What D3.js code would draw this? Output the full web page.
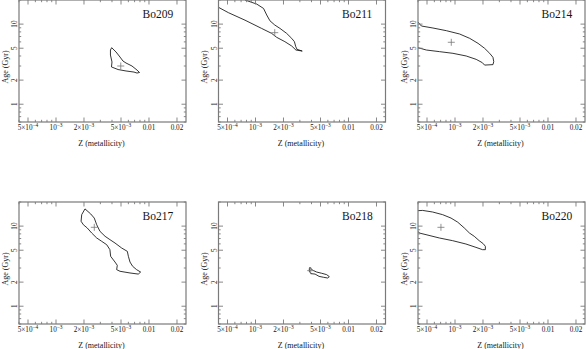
<!DOCTYPE html>
<html>
<head>
<meta charset="utf-8">
<script src="https://cdn.jsdelivr.net/npm/d3@7"></script>
<style>
  html, body { margin: 0; padding: 0; background: #fff; }
  svg { display: block; }
</style>
</head>
<body>
<div id="chart"></div>
<script>
// cluster names, one per panel (row by row)
const clusterNames = ['Bo209', 'Bo211', 'Bo214', 'Bo217', 'Bo218', 'Bo220'];

// best fit (Z, age in Gyr), drawn as a cross
const bestFits = [
  [0.00497, 3.00],
  [0.00161, 7.82],
  [0.000912, 5.93],
  [0.00258, 9.66],
  [0.00392, 2.78],
  [0.000706, 9.66]
];

// confidence contours, [Z, age] pairs
const bo209Contour = [
  [0.00397, 5.08], [0.00442, 4.49], [0.00488, 3.88], [0.00525, 3.46], [0.00566, 3.27],
  [0.00656, 3.00], [0.00743, 2.67], [0.00791, 2.49], [0.00743, 2.45], [0.00690, 2.52],
  [0.00566, 2.60], [0.00465, 2.71], [0.00395, 2.92], [0.00400, 3.37], [0.00385, 4.11],
  [0.00385, 4.75]
];
const bo211Contour = [
  [0.00072, 22], [0.000771, 20.0], [0.00103, 17.8], [0.00122, 15.7], [0.00132, 13.0],
  [0.00143, 11.0], [0.00161, 9.75], [0.00183, 8.85], [0.00216, 7.67], [0.00245, 6.64],
  [0.00262, 6.04], [0.00271, 5.22], [0.00280, 4.84], [0.00318, 4.61], [0.00272, 4.75],
  [0.00245, 5.33], [0.00207, 6.04], [0.00169, 6.84], [0.00149, 7.67], [0.00116, 8.85],
  [0.000771, 11.2], [0.000511, 13.9], [0.000400, 16.2], [0.00036, 17.2], [0.00036, 24],
  [0.00072, 24]
];
const bo214Contour = [
  [0.00036, 11.2], [0.000400, 10.6], [0.000435, 9.47], [0.000579, 8.94], [0.000807, 8.28],
  [0.00112, 7.53], [0.00144, 6.64], [0.00177, 5.75], [0.00208, 4.99], [0.00236, 4.32],
  [0.00256, 3.85], [0.00261, 3.40], [0.00256, 3.12], [0.00208, 3.08], [0.00197, 3.30],
  [0.00169, 3.63], [0.00132, 4.00], [0.000950, 4.32], [0.000684, 4.53], [0.000492, 4.75],
  [0.000400, 5.08], [0.00036, 5.2]
];
const bo217Contour = [
  [0.00205, 16.4], [0.00236, 14.2], [0.00258, 12.6], [0.00274, 10.4], [0.00297, 8.61],
  [0.00337, 7.46], [0.00380, 6.78], [0.00431, 6.15], [0.00508, 5.33], [0.00585, 4.84],
  [0.00600, 4.20], [0.00625, 3.56], [0.00667, 3.15], [0.00736, 2.86], [0.00813, 2.67],
  [0.00767, 2.52], [0.00625, 2.60], [0.00488, 2.73], [0.00449, 2.86], [0.00456, 3.24],
  [0.00431, 3.56], [0.00387, 4.20], [0.00380, 5.08], [0.00351, 5.86], [0.00310, 6.46],
  [0.00274, 7.11], [0.00242, 8.20], [0.00217, 9.47], [0.00197, 10.4], [0.00186, 11.5],
  [0.00189, 13.9]
];
const bo218Contour = [
  [0.00385, 3.06], [0.00408, 2.83], [0.00455, 2.67], [0.00514, 2.58], [0.00582, 2.48],
  [0.00622, 2.34], [0.00597, 2.25], [0.00536, 2.30], [0.00482, 2.36], [0.00437, 2.52],
  [0.00395, 2.55], [0.00379, 2.73], [0.00379, 2.94]
];
const bo220Contour = [
  [0.00036, 15.5], [0.000400, 15.6], [0.000449, 15.7], [0.000575, 15.0], [0.000736, 13.9],
  [0.000906, 12.6], [0.00107, 11.2], [0.00126, 9.47], [0.00143, 8.20], [0.00161, 7.46],
  [0.00182, 6.58], [0.00201, 6.04], [0.00212, 5.60], [0.00212, 5.08], [0.00198, 5.08],
  [0.00168, 5.43], [0.00131, 5.98], [0.000944, 6.58], [0.000678, 7.11], [0.000488, 7.82],
  [0.000413, 8.20], [0.000400, 8.61], [0.00036, 8.8]
];
const contours = [bo209Contour, bo211Contour, bo214Contour, bo217Contour, bo218Contour, bo220Contour];

// axis ticks
const zTicks = [0.0005, 0.001, 0.002, 0.005, 0.01, 0.02];
const zTickLabels = ['5×10^−4', '10^−3', '2×10^−3', '5×10^−3', '0.01', '0.02'];
const ageTicks = [1, 2, 5, 10];
const ageTickLabels = ['1', '2', '5', '10'];

const Z_DOMAIN = [0.0004, 0.025];
const AGE_DOMAIN = [0.6, 20];

// layout
const CANVAS = { w: 586, h: 349 };
const PANEL = { w: 167, h: 122, lefts: [19, 218.5, 418], tops: [0, 202] };
const FRAME_COLOR = '#7a7a7a';
const TEXT_COLOR = '#151515';
const FONT = '"Liberation Serif", "DejaVu Serif", serif';

const svg = d3.select('#chart').append('svg')
  .attr('width', CANVAS.w)
  .attr('height', CANVAS.h)
  .attr('font-family', FONT);

const defs = svg.append('defs');

const x = d3.scaleLog().domain(Z_DOMAIN).range([0, PANEL.w]);
const y = d3.scaleLog().domain(AGE_DOMAIN).range([PANEL.h, 0]);

// minor ticks for log axes
function logTicks(domain) {
  const out = [];
  [1e-5, 1e-4, 1e-3, 1e-2, 1e-1, 1, 10].forEach(dec => {
    for (let m = 1; m <= 9; m++) {
      const v = +(m * dec).toPrecision(6);
      if (v >= domain[0] && v <= domain[1]) out.push({ v, major: m === 1 });
    }
  });
  return out;
}
const zMinor = logTicks(Z_DOMAIN).map(t => ({ v: t.v, major: t.major || zTicks.includes(t.v) }));
const ageMinor = logTicks(AGE_DOMAIN).map(t => ({ v: t.v, major: t.major || ageTicks.includes(t.v) }));

const line = d3.line().x(d => x(d[0])).y(d => y(d[1]));

clusterNames.forEach((name, i) => {
  const col = i % 3, row = Math.floor(i / 3);
  const g = svg.append('g')
    .attr('transform', `translate(${PANEL.lefts[col]},${PANEL.tops[row]})`);

  defs.append('clipPath').attr('id', `clip${i}`)
    .append('rect').attr('width', PANEL.w).attr('height', PANEL.h);

  // contour
  g.append('path')
    .datum(contours[i])
    .attr('clip-path', `url(#clip${i})`)
    .attr('d', d => line(d) + 'Z')
    .attr('fill', 'none')
    .attr('stroke', '#111')
    .attr('stroke-width', 0.85);

  // best fit cross
  const cx = x(bestFits[i][0]), cy = y(bestFits[i][1]);
  g.append('path')
    .attr('d', `M${cx - 3.5},${cy}H${cx + 3.5}M${cx},${cy - 3.5}V${cy + 3.5}`)
    .attr('stroke', '#777')
    .attr('stroke-width', 0.8);

  // frame
  g.append('rect')
    .attr('width', PANEL.w).attr('height', PANEL.h)
    .attr('fill', 'none')
    .attr('stroke', FRAME_COLOR)
    .attr('stroke-width', 1.2);

  // ticks on all four sides, pointing inward
  const tg = g.append('g').attr('stroke', FRAME_COLOR).attr('stroke-width', 0.9);
  zMinor.forEach(t => {
    const len = t.major ? 4.5 : 2.2, px = x(t.v);
    tg.append('line').attr('x1', px).attr('x2', px).attr('y1', PANEL.h).attr('y2', PANEL.h - len);
    tg.append('line').attr('x1', px).attr('x2', px).attr('y1', 0).attr('y2', len);
  });
  ageMinor.forEach(t => {
    const len = t.major ? 4.5 : 2.2, py = y(t.v);
    tg.append('line').attr('x1', 0).attr('x2', len).attr('y1', py).attr('y2', py);
    tg.append('line').attr('x1', PANEL.w).attr('x2', PANEL.w - len).attr('y1', py).attr('y2', py);
  });

  // x tick labels
  zTicks.forEach((v, k) => {
    const [base, exp] = zTickLabels[k].split('^');
    const t = g.append('text')
      .attr('x', x(v)).attr('y', PANEL.h + 8)
      .attr('text-anchor', 'middle')
      .attr('font-size', 7.2)
      .attr('fill', TEXT_COLOR);
    t.append('tspan').text(base);
    if (exp) t.append('tspan').attr('dy', -3.2).attr('font-size', 5.4).text(exp);
  });

  g.append('text')
    .attr('x', PANEL.w / 2 - 1).attr('y', PANEL.h + 23.5)
    .attr('text-anchor', 'middle')
    .attr('font-size', 8)
    .attr('fill', TEXT_COLOR)
    .text('Z (metallicity)');

  // y tick labels, rotated
  ageTicks.forEach((v, k) => {
    g.append('text')
      .attr('transform', `translate(-2,${y(v)}) rotate(-90)`)
      .attr('text-anchor', 'middle')
      .attr('font-size', 7.2)
      .attr('fill', TEXT_COLOR)
      .text(ageTickLabels[k]);
  });

  g.append('text')
    .attr('transform', `translate(-11.5,${PANEL.h / 2 + 6}) rotate(-90)`)
    .attr('text-anchor', 'middle')
    .attr('font-size', 8)
    .attr('fill', TEXT_COLOR)
    .text('Age (Gyr)');

  // cluster name
  g.append('text')
    .attr('x', 123.5).attr('y', 18)
    .attr('font-size', 11.5)
    .attr('fill', TEXT_COLOR)
    .text(name);
});
</script>
</body>
</html>
